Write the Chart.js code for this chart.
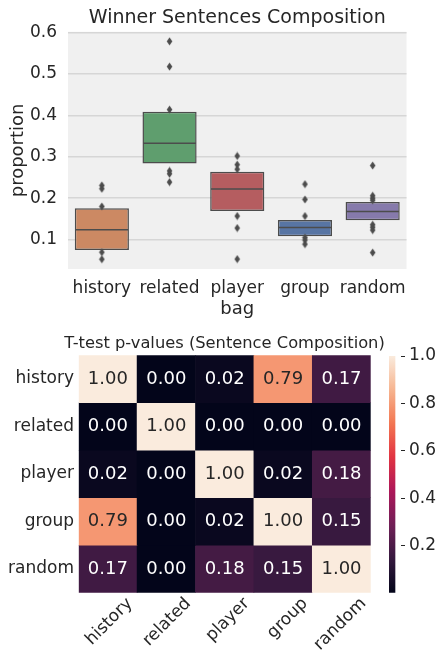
<!DOCTYPE html>
<html><head><meta charset="utf-8">
<script src="https://cdn.jsdelivr.net/npm/chart.js@4.4.1/dist/chart.umd.min.js"></script>
<style>
html,body{margin:0;padding:0;background:#fff;width:436px;height:655px;overflow:hidden;position:relative;}
canvas{position:absolute;display:block;}
#c1{left:0;top:0;}
#c2{left:0;top:330px;}
#c3{left:380px;top:330px;}
</style></head><body>
<canvas id="c1" width="436" height="330"></canvas>
<canvas id="c2" width="449" height="325"></canvas>
<canvas id="c3" width="56" height="325"></canvas>
<script>
// ---------- data: box plot ----------
const bagCategories = ['history', 'related', 'player', 'group', 'random'];
const q1Values      = [0.075, 0.284, 0.169, 0.108, 0.147];
const medianValues  = [0.124, 0.333, 0.222, 0.129, 0.168];
const q3Values      = [0.176, 0.409, 0.264, 0.1475, 0.191];
const historyOutliers = [0.231, 0.223, 0.180, 0.0695, 0.0526];
const relatedOutliers = [0.579, 0.518, 0.414, 0.266, 0.259, 0.239];
const playerOutliers  = [0.302, 0.281, 0.270, 0.157, 0.128, 0.053];
const groupOutliers   = [0.234, 0.197, 0.157, 0.105, 0.099, 0.089];
const randomOutliers  = [0.279, 0.206, 0.200, 0.195, 0.136, 0.130, 0.123, 0.0686];
const proportionTicks = [0.1, 0.2, 0.3, 0.4, 0.5, 0.6];

// ---------- data: heatmap ----------
const groupLabels = ['history', 'related', 'player', 'group', 'random'];
const pValues = [
  [1.00, 0.001, 0.02, 0.79, 0.17],
  [0.001, 1.00, 0.001, 0.001, 0.001],
  [0.02, 0.001, 1.00, 0.02, 0.18],
  [0.79, 0.001, 0.02, 1.00, 0.15],
  [0.17, 0.001, 0.18, 0.15, 1.00]
];
const colorbarTicks = [0.2, 0.4, 0.6, 0.8, 1.0];

// ---------- styles ----------
const boxColors = ['#CC8963', '#5F9E6E', '#B55D60', '#5875A4', '#867AAB'];
const lineGray = '#4c4c4c';
const textColor = '#262626';
Chart.defaults.font.family = '"DejaVu Sans", sans-serif';
Chart.defaults.color = textColor;

// rocket colormap
const rocketStops = [
  [0.0, 3, 5, 26], [1/7, 53, 25, 62], [2/7, 112, 31, 87], [3/7, 173, 23, 89],
  [4/7, 225, 51, 66], [5/7, 243, 118, 81], [6/7, 246, 180, 143], [1.0, 250, 235, 221]
];
function rocket(t) {
  t = Math.max(0, Math.min(1, t));
  for (let k = 1; k < rocketStops.length; k++) {
    const a = rocketStops[k - 1], b = rocketStops[k];
    if (t <= b[0]) {
      const f = (t - a[0]) / (b[0] - a[0]);
      return [0, 1, 2].map(c => Math.round(a[c + 1] + f * (b[c + 1] - a[c + 1])));
    }
  }
  return rocketStops[rocketStops.length - 1].slice(1);
}
const vmin = Math.min(...pValues.flat());
const vmax = 1.0;
const norm = v => (v - vmin) / (vmax - vmin);
const rgbStr = c => `rgb(${c[0]},${c[1]},${c[2]})`;
function relLum(c) {
  const f = x => { x /= 255; return x <= 0.03928 ? x / 12.92 : Math.pow((x + 0.055) / 1.055, 2.4); };
  return 0.2126 * f(c[0]) + 0.7152 * f(c[1]) + 0.0722 * f(c[2]);
}

// thin diamond marker
const diamond = document.createElement('canvas');
diamond.width = 7; diamond.height = 9;
(function () {
  const d = diamond.getContext('2d');
  d.fillStyle = lineGray;
  d.beginPath();
  d.moveTo(3.5, 0.6); d.lineTo(6.3, 4.5); d.lineTo(3.5, 8.4); d.lineTo(0.7, 4.5);
  d.closePath(); d.fill();
})();

const plotBg = {
  id: 'plotBg',
  beforeDraw(chart, args, opts) {
    const { ctx, chartArea: a } = chart;
    ctx.save(); ctx.fillStyle = opts.color; ctx.fillRect(a.left, a.top, a.width, a.height); ctx.restore();
  }
};

const outlierLists = [historyOutliers, relatedOutliers, playerOutliers, groupOutliers, randomOutliers];
const outlierPoints = [];
outlierLists.forEach((arr, i) => arr.forEach(v => outlierPoints.push({ x: bagCategories[i], y: v })));

new Chart(document.getElementById('c1'), {
  type: 'bar',
  data: {
    labels: bagCategories,
    datasets: [
      {
        type: 'line', showLine: false, data: outlierPoints,
        pointStyle: diamond, pointRadius: 4, pointHoverRadius: 4, order: 0
      },
      {
        type: 'line', showLine: false,
        data: medianValues.map((v, i) => ({ x: bagCategories[i], y: v })),
        pointStyle: 'line',
        pointRadius: ctx => ctx.chart.chartArea ? ctx.chart.chartArea.width / bagCategories.length * 0.8 / 2 - 0.8 : 28,
        pointBorderColor: lineGray, pointBorderWidth: 1.5, order: 1
      },
      {
        type: 'bar',
        data: bagCategories.map((c, i) => [q1Values[i], q3Values[i]]),
        backgroundColor: boxColors, borderColor: lineGray, borderWidth: 1.5, borderSkipped: false,
        barPercentage: 0.8, categoryPercentage: 1.0, order: 2
      }
    ]
  },
  options: {
    responsive: false, animation: false, devicePixelRatio: 1,
    layout: { padding: 0 },
    plugins: {
      legend: { display: false }, tooltip: { enabled: false },
      title: {
        display: true, text: 'Winner Sentences Composition', fullSize: false,
        font: { size: 19, weight: 'normal' }, color: textColor, padding: { top: 6.5, bottom: 2.5 }
      },
      plotBg: { color: '#f0f0f0' }
    },
    scales: {
      x: {
        type: 'category', offset: true,
        grid: { display: false, drawTicks: false }, border: { display: false },
        ticks: { font: { size: 17 }, color: textColor, padding: 9, maxRotation: 0, autoSkip: false },
        title: { display: true, text: 'bag', font: { size: 18 }, color: textColor, padding: { top: 0, bottom: 10 } },
        afterFit: s => { s.height = 61; }
      },
      y: {
        min: 0.029, max: 0.602,
        afterBuildTicks: s => { s.ticks = proportionTicks.map(v => ({ value: v })); },
        grid: { color: '#d6d6d6', lineWidth: 1.5, drawTicks: false }, border: { display: false },
        ticks: { font: { size: 17 }, color: textColor, padding: 11, callback: v => v.toFixed(1) },
        title: { display: true, text: 'proportion', font: { size: 18 }, color: textColor, padding: { top: 8, bottom: 0 } },
        afterFit: s => { s.width = 68; }
      }
    }
  },
  plugins: [plotBg]
});

// ---------- heatmap ----------
const cellText = {
  id: 'cellText',
  afterDatasetsDraw(chart) {
    const { ctx, scales: { x, y } } = chart;
    ctx.save();
    ctx.font = '18px "DejaVu Sans"';
    ctx.textAlign = 'center'; ctx.textBaseline = 'middle';
    pValues.forEach((row, i) => row.forEach((v, j) => {
      const c = rocket(norm(v));
      ctx.fillStyle = relLum(c) > 0.408 ? textColor : '#ffffff';
      ctx.fillText(v.toFixed(2), x.getPixelForValue(j), y.getPixelForValue(i + 0.5));
    }));
    ctx.restore();
  }
};

new Chart(document.getElementById('c2'), {
  type: 'bar',
  data: {
    labels: groupLabels,
    datasets: pValues.map((row, i) => ({
      data: groupLabels.map(() => [i, i + 1]),
      backgroundColor: row.map(v => rgbStr(rocket(norm(v)))),
      grouped: false, barPercentage: 1, categoryPercentage: 1, borderWidth: 0
    }))
  },
  options: {
    responsive: false, animation: false, devicePixelRatio: 1,
    layout: { padding: 0 },
    plugins: {
      legend: { display: false }, tooltip: { enabled: false },
      title: {
        display: true, text: 'T-test p-values (Sentence Composition)',
        font: { size: 16.3, weight: 'normal' }, color: textColor, padding: { top: 3.5, bottom: 2.2 }
      }
    },
    scales: {
      x: {
        type: 'category', offset: true,
        grid: { display: false, drawTicks: false }, border: { display: false },
        ticks: { font: { size: 17 }, color: textColor, minRotation: 45, maxRotation: 45, padding: 1, labelOffset: 22, autoSkip: false },
        afterFit: s => { s.height = 62.3; }
      },
      y: {
        type: 'linear', min: 0, max: 5, reverse: true,
        afterBuildTicks: s => { s.ticks = groupLabels.map((l, i) => ({ value: i + 0.5 })); },
        grid: { display: false, drawTicks: false }, border: { display: false },
        ticks: { font: { size: 17 }, color: textColor, padding: 4.7, callback: v => groupLabels[Math.floor(v)] },
        afterFit: s => { s.width = 78.7; }
      },
      spacer: {
        type: 'linear', position: 'right', display: true,
        grid: { display: false, drawTicks: false }, border: { display: false },
        ticks: { display: false },
        afterFit: s => { s.width = 78.3; }
      }
    }
  },
  plugins: [cellText]
});

// ---------- colorbar ----------
new Chart(document.getElementById('c3'), {
  type: 'bar',
  data: {
    labels: ['p'],
    datasets: [{
      data: [[vmin, vmax]],
      barPercentage: 1, categoryPercentage: 1, borderWidth: 0,
      backgroundColor: ctx => {
        const a = ctx.chart.chartArea;
        if (!a) return '#000';
        const g = ctx.chart.ctx.createLinearGradient(0, a.bottom, 0, a.top);
        for (let k = 0; k <= 40; k++) { const t = k / 40; g.addColorStop(t, rgbStr(rocket(t))); }
        return g;
      }
    }]
  },
  options: {
    responsive: false, animation: false, devicePixelRatio: 1,
    layout: { padding: { left: 9, right: 0, top: 26, bottom: 62.3 } },
    plugins: { legend: { display: false }, tooltip: { enabled: false } },
    scales: {
      x: { display: false, offset: false },
      y: {
        position: 'right', min: vmin, max: vmax,
        afterBuildTicks: s => { s.ticks = colorbarTicks.map(v => ({ value: v })); },
        grid: { display: true, drawOnChartArea: false, drawTicks: true, tickLength: 4, tickColor: textColor, tickWidth: 1 },
        border: { display: false },
        ticks: { font: { size: 17 }, color: textColor, padding: 4, callback: v => v.toFixed(1) },
        afterFit: s => { s.width = 35; }
      }
    }
  }
});
</script>
</body></html>
